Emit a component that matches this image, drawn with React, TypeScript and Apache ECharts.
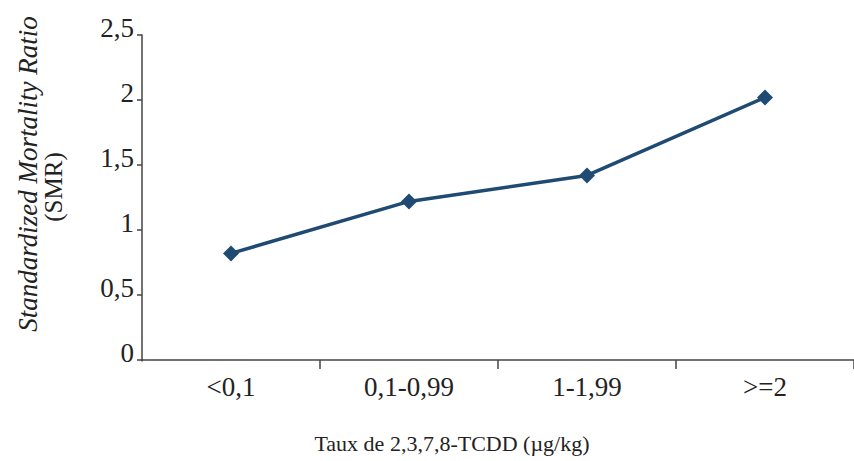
import React, { useEffect, useRef } from "react";
import * as echarts from "echarts";

const categories = ["<0,1", "0,1-0,99", "1-1,99", ">=2"];
const smrValues = [0.82, 1.22, 1.42, 2.02];
const yTicks = [0, 0.5, 1, 1.5, 2, 2.5];
const xTitle = "Taux de 2,3,7,8-TCDD (µg/kg)";
const yTitle1 = "Standardized Mortality Ratio";
const yTitle2 = "(SMR)";

const FONT = "'Liberation Serif', 'DejaVu Serif', serif";

export default function App() {
  const ref = useRef<HTMLDivElement>(null);
  useEffect(() => {
    if (!ref.current) return;
    const chart = echarts.init(ref.current, undefined, { renderer: "svg" });
    chart.setOption({
      animation: false,
      backgroundColor: "#ffffff",
      grid: { left: 142, top: 35, width: 722, height: 325, containLabel: false },
      xAxis: {
        type: "category",
        data: categories,
        boundaryGap: true,
        axisLine: { show: true, lineStyle: { color: "#444", width: 1.5 } },
        axisTick: { show: true, length: 9, lineStyle: { color: "#444", width: 1.5 } },
        axisLabel: { color: "#222", fontFamily: FONT, fontSize: 27, margin: 13 },
        splitLine: { show: false },
      },
      yAxis: {
        type: "value",
        min: yTicks[0],
        max: yTicks[yTicks.length - 1],
        interval: 0.5,
        axisLine: { show: true, lineStyle: { color: "#444", width: 1.5 } },
        axisTick: { show: true, length: 5, lineStyle: { color: "#444", width: 1.5 } },
        axisLabel: {
          color: "#222",
          fontFamily: FONT,
          fontSize: 27,
          margin: 8,
          verticalAlign: "bottom",
          lineHeight: 14,
          formatter: (v: number) => String(v).replace(".", ","),
        },
        splitLine: { show: false },
      },
      series: [
        {
          type: "line",
          data: smrValues,
          symbol: "diamond",
          symbolSize: 16,
          lineStyle: { color: "#1f4a72", width: 3.5 },
          itemStyle: { color: "#1f4a72" },
        },
      ],
      graphic: [
        {
          type: "rect",
          shape: { x: 136, y: 361.5, width: 12, height: 12 },
          style: { fill: "#ffffff" },
          z: 100,
        },
        {
          type: "text",
          x: 452,
          y: 443,
          style: {
            text: xTitle,
            fontFamily: FONT,
            fontSize: 22,
            fill: "#222",
            align: "center",
            verticalAlign: "middle",
          },
        },
        {
          type: "text",
          x: 28,
          y: 174,
          rotation: Math.PI / 2,
          style: {
            text: yTitle1,
            fontFamily: FONT,
            fontStyle: "italic",
            fontSize: 27,
            fill: "#222",
            align: "center",
            verticalAlign: "middle",
          },
        },
        {
          type: "text",
          x: 53,
          y: 187,
          rotation: Math.PI / 2,
          style: {
            text: yTitle2,
            fontFamily: FONT,
            fontSize: 25,
            fill: "#222",
            align: "center",
            verticalAlign: "middle",
          },
        },
      ],
    });
    return () => chart.dispose();
  }, []);
  return (
    <div
      ref={ref}
      style={{ position: "fixed", left: 0, top: 0, width: 854, height: 461, background: "#fff" }}
    />
  );
}
